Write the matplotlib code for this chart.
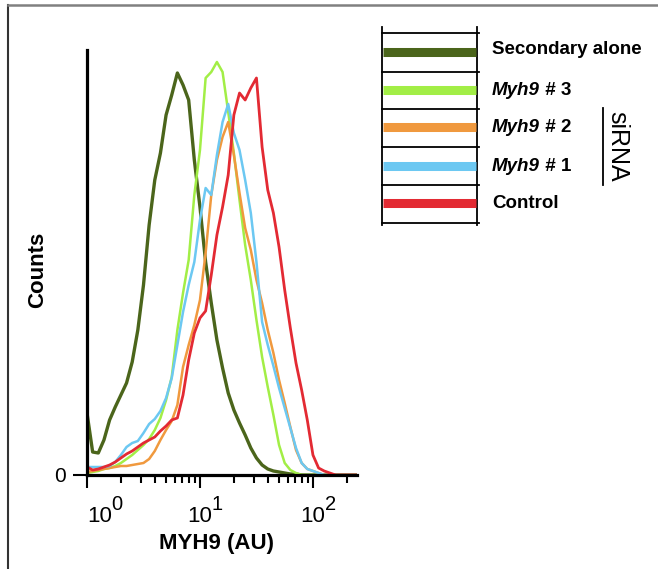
import numpy as np
import matplotlib.pyplot as plt
from matplotlib.ticker import LogLocator, NullFormatter

plt.rcParams['font.family'] = ['Liberation Sans', 'DejaVu Sans']

# histogram bins (log10 of MYH9 intensity), 0.05 decade wide
log_bins = np.round(np.arange(49) * 0.05, 2)

# counts per bin
secondary_alone = [62, 23, 22, 35, 55, 68, 80, 92, 113, 145,
                   190, 250, 295, 322, 360, 380, 402, 390, 375, 315,
                   268, 213, 172, 135, 107, 82, 65, 52, 40, 27,
                   17, 10, 6, 4, 3, 2, 1, 1, 0, 0,
                   0, 0, 0, 0, 0, 0, 0, 0, 0]
myh9_3 = [2, 3, 4, 6, 7, 9, 12, 16, 20, 25,
          30, 36, 45, 57, 75, 98, 145, 182, 215, 280,
          325, 397, 403, 413, 403, 363, 322, 275, 230, 195,
          155, 118, 88, 60, 30, 12, 5, 2, 0, 0,
          0, 0, 0, 0, 0, 0, 0, 0, 0]
myh9_2 = [3, 4, 5, 6, 7, 8, 9, 9, 10, 11,
          12, 16, 24, 35, 45, 54, 70, 108, 130, 150,
          175, 222, 280, 315, 338, 353, 320, 282, 247, 225,
          195, 172, 145, 122, 95, 72, 48, 25, 12, 6,
          4, 2, 0, 0, 0, 0, 0, 0, 0]
myh9_1 = [8, 8, 8, 8, 9, 13, 20, 28, 32, 34,
          42, 51, 56, 64, 77, 97, 130, 163, 190, 213,
          255, 287, 280, 320, 353, 371, 342, 325, 295, 262,
          213, 153, 130, 109, 87, 67, 47, 27, 12, 6,
          4, 2, 0, 0, 0, 0, 0, 0, 0]
control = [8, 5, 6, 8, 10, 13, 17, 21, 24, 28,
           32, 35, 38, 44, 49, 55, 57, 80, 115, 142,
           157, 164, 200, 240, 268, 300, 360, 382, 375, 387,
           397, 328, 285, 262, 228, 185, 147, 112, 85, 55,
           20, 7, 4, 2, 0, 0, 0, 0, 0]

labels = ['Secondary alone', 'Myh9 # 3', 'Myh9 # 2', 'Myh9 # 1', 'Control']
colors = ['#4b651b', '#a2ee46', '#f0993e', '#6cc8f2', '#e32a33']
widths = [2.4, 1.8, 1.8, 1.8, 2.0]
counts = [secondary_alone, myh9_3, myh9_2, myh9_1, control]

decades = [1, 10, 100]
exponents = ['0', '1', '2']

W, H = 658, 569
fig = plt.figure(figsize=(W / 100, H / 100), dpi=100)
ax = fig.add_axes([87 / W, 1 - 475 / H, 270 / W, 425 / H])

intensity = 10 ** log_bins
for c, col, lw in zip(counts, colors, widths):
    ax.plot(intensity, c, color=col, lw=lw)

ax.set_xscale('log')
ax.set_xlim(1, 10 ** 2.39)
ax.set_ylim(0, 425)
for s in ['top', 'right']:
    ax.spines[s].set_visible(False)
for s in ['left', 'bottom']:
    ax.spines[s].set_linewidth(2.3)

ax.set_xticks(decades)
ax.set_xticklabels(['10'] * len(decades))
ax.xaxis.set_minor_locator(LogLocator(base=10, subs=np.arange(2, 10)))
ax.xaxis.set_minor_formatter(NullFormatter())
ax.tick_params(axis='x', which='major', length=9.5, width=1.5, labelsize=16, pad=13)
ax.tick_params(axis='x', which='minor', length=6, width=1.5)
major = ax.xaxis.get_major_ticks()
major[0].label1.set_horizontalalignment('left')
major[0].label1.set_x(1.0)
for tick, e in zip(major, exponents):
    ax.annotate(e, xy=(0.97, 0.62), xycoords=tick.label1, fontsize=14.5,
                ha='left', va='bottom', annotation_clip=False)
ax.set_yticks([0])
ax.set_yticklabels(['0'])
ax.tick_params(axis='y', length=10, width=1.5, labelsize=15, pad=5)

fig.text(217 / W, 1 - 543 / H, 'MYH9 (AU)', fontsize=16, fontweight='bold',
         ha='center', va='center')
fig.text(38 / W, 1 - 270 / H, 'Counts', fontsize=16, fontweight='bold',
         rotation=90, ha='center', va='center')

# overlay in pixel coordinates for the legend block and frame
ov = fig.add_axes([0, 0, 1, 1])
ov.set_xlim(0, W)
ov.set_ylim(H, 0)
ov.axis('off')

ov.plot([8, 8], [5, H], color='#333333', lw=1.5)
ov.plot([8, W], [5, 5], color='#808080', lw=1.8)

row_y = [52, 90, 127, 166, 203]
sep_y = [33, 72, 109, 147, 185, 223]
for y in sep_y:
    ov.plot([382, 479], [y, y], color='black', lw=1.3)
for x in [382, 477]:
    ov.plot([x, x], [27, 225], color='black', lw=1.3)

for y, lab, col in zip(row_y, labels, colors):
    ov.plot([383, 476], [y, y], color=col, lw=6.5, solid_capstyle='butt')
    ty = y - 3 if lab == 'Secondary alone' else y
    if lab.startswith('Myh9'):
        t1 = ov.text(492, ty, 'Myh9', fontsize=13.5, fontweight='bold',
                     fontstyle='italic', ha='left', va='center')
        ov.annotate(lab[4:], xy=(1, 0), xycoords=t1, fontsize=13.5,
                    fontweight='bold', ha='left', va='bottom')
    else:
        ov.text(492, ty, lab, fontsize=13.5, fontweight='bold',
                ha='left', va='center')

ov.text(617, 146, 'siRNA', fontsize=18, rotation=-90, ha='center', va='center')
ov.plot([603, 603], [108, 185], color='black', lw=1.3)

plt.savefig('out.png', dpi=100)
